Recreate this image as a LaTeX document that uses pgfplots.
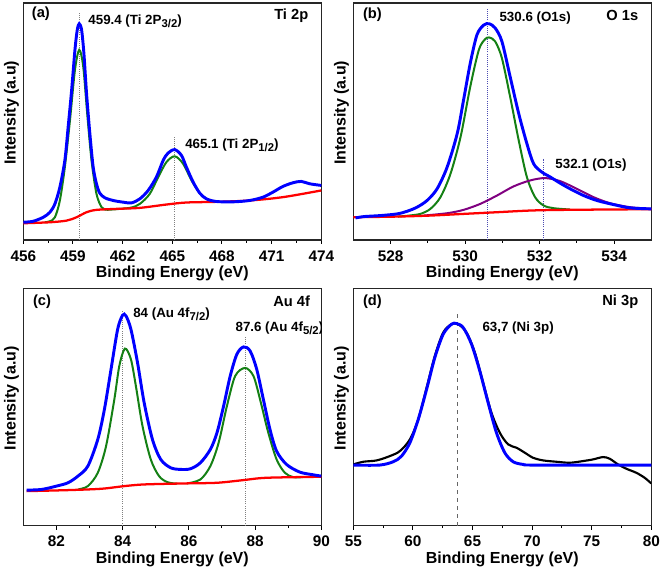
\documentclass[border=0pt]{standalone}
\usepackage{fontspec}
\setmainfont{Liberation Sans}
\usepackage{pgfplots}
\pgfplotsset{compat=1.18}

\definecolor{fitblue}{RGB}{0,0,255}
\definecolor{pkgreen}{RGB}{20,128,20}
\definecolor{bgred}{RGB}{255,0,0}
\definecolor{pkpurple}{RGB}{128,0,128}
\newcommand{\sbs}[1]{\raisebox{-0.45ex}{\fontsize{8.5}{9}\selectfont #1}}

\pgfplotsset{
  panel/.style={
    scale only axis, width=223.5pt, height=177.75pt,
    anchor=south west, axis line style={black!85, line width=0.9pt},
    ymin=0, ytick=\empty, xtick pos=left, tick align=outside,
    minor x tick num=1,
    major tick length=3pt, minor tick length=2pt,
    every tick/.style={black, line width=0.8pt},
    /pgf/number format/assume math mode=true,
    xticklabel style={font=\fontsize{11.5}{13}\selectfont\bfseries, yshift=-1.5pt},
    xlabel={\bfseries Binding Energy (eV)},
    ylabel={\bfseries Intensity (a.u)},
    label style={font=\fontsize{12}{14}\selectfont},
    xlabel style={at={(axis description cs:0.5,-0.142)}, anchor=center},
    ylabel style={at={(axis description cs:-0.040,0.537)}, anchor=center},
    clip=true,
  },
  blueline/.style={fitblue, line width=2.2pt, smooth, tension=0.5},
  greenline/.style={pkgreen, line width=1.5pt, smooth, tension=0.5},
  redline/.style={bgred, line width=1.7pt, smooth, tension=0.5},
  vline/.style={gray, densely dotted, line width=0.6pt},
}

\begin{document}
\begin{tikzpicture}
\path[use as bounding box] (0,0) rectangle (495.75pt,429pt);

% (a) Ti 2p
\begin{axis}[panel, at={(17.475pt,249pt)}, xmin=456, xmax=474, ymax=708,
  xtick={456,459,...,474}]
\addplot[vline] coordinates {(459.4,0) (459.4,680)};
\addplot[vline] coordinates {(465.1,0) (465.1,308)};
\addplot[greenline] coordinates {
(457.3,53) (457.61,56) (457.91,68) (458.21,118) (458.51,218) (458.82,358) (459.12,508)
(459.38,568) (459.62,518) (459.86,378) (460.12,238) (460.42,138) (460.73,98) (461.03,90)};
\addplot[greenline] coordinates {
(461.03,90) (462.43,96) (463.04,108) (463.64,138) (464.15,188) (464.65,233)
(465.15,250) (465.65,228) (466.16,178) (466.66,140) (467.16,120) (467.66,114)};
\addplot[redline] coordinates {
(456,50) (457.61,53) (458.62,58) (459.22,68) (459.82,83) (460.42,90) (461.63,93)
(463.04,96) (464.65,106) (465.85,112) (467.66,114) (469.67,118) (471.68,128) (474,148)};
\addplot[blueline] coordinates {
(456.0,53) (456.60,56) (457.21,68) (457.61,83) (457.91,108) (458.21,158)
(458.51,238) (458.71,338) (458.92,448) (459.12,568) (459.26,628) (459.38,646)
(459.52,628) (459.66,558) (459.82,438) (460.02,318) (460.22,218) (460.42,168)
(460.62,140) (460.93,126) (461.43,118) (462.03,113) (462.54,111) (463.04,123)
(463.54,148) (464.04,188) (464.45,238) (464.75,260) (465.15,270) (465.55,253)
(465.85,218) (466.26,173) (466.66,140) (467.06,123) (467.66,115) (468.67,114)
(469.67,118) (470.48,128) (471.08,143) (471.68,160) (472.29,171) (472.79,175)
(473.29,168) (474.0,163)};
\node[anchor=west, font=\fontsize{10}{12}\selectfont\bfseries] at (axis cs:459.65,653) {459.4 (Ti 2P\sbs{3/2})};
\node[anchor=west, font=\fontsize{10}{12}\selectfont\bfseries] at (axis cs:465.5,283) {465.1 (Ti 2P\sbs{1/2})};
\node[anchor=west, font=\fontsize{11}{13}\selectfont\bfseries] at (axis description cs:0.013,0.954) {(a)};
\node[anchor=east, font=\fontsize{11}{13}\selectfont\bfseries] at (axis description cs:0.972,0.946) {Ti 2p};
\end{axis}

% (b) O 1s
\begin{axis}[panel, at={(264.975pt,249pt)}, xmin=527, xmax=535, ymax=708,
  xtick={528,530,532,534}]
\addplot[vline, blue!40!gray] coordinates {(530.6,0) (530.6,693)};
\addplot[vline, blue!40!gray] coordinates {(532.1,0) (532.1,243)};
\addplot[greenline] coordinates {
(528.2,70) (528.5,73) (528.80,78) (529.07,93) (529.34,128) (529.61,198) (529.88,308) (530.14,458)
(530.37,568) (530.54,600) (530.65,605) (530.81,593) (530.99,543) (531.21,428)
(531.44,298) (531.66,188) (531.88,128) (532.11,103) (532.38,95) (532.82,91)};
\addplot[pkpurple, line width=1.5pt, smooth, tension=0.5] coordinates {
(528.89,73) (529.52,80) (529.96,90) (530.41,108) (530.86,133) (531.30,160)
(531.75,178) (532.15,185) (532.55,176) (533.0,153) (533.45,128) (533.89,110)
(534.43,98) (535.0,93)};
\addplot[redline] coordinates {
(527.0,68) (528.18,70) (529.07,73) (529.96,78) (530.86,83) (531.75,88) (532.64,90) (535.0,92)};
\addplot[blueline] coordinates {
(527.06,66) (527.29,70) (527.73,73) (528.18,78) (528.45,86) (528.71,98)
(528.98,118) (529.25,153) (529.52,218) (529.79,318) (529.96,418) (530.14,528)
(530.32,613) (530.50,642) (530.65,646) (530.81,633) (530.99,593) (531.21,488)
(531.44,378) (531.66,288) (531.84,228) (532.06,203) (532.29,188) (532.55,170)
(532.82,153) (533.18,133) (533.54,118) (533.98,106) (534.43,96) (535.0,93)};
\node[anchor=west, font=\fontsize{10}{12}\selectfont\bfseries] at (axis cs:530.8,663) {530.6 (O1s)};
\node[anchor=west, font=\fontsize{10}{12}\selectfont\bfseries] at (axis cs:532.3,223) {532.1 (O1s)};
\node[anchor=west, font=\fontsize{11}{13}\selectfont\bfseries] at (axis description cs:0.017,0.95) {(b)};
\node[anchor=east, font=\fontsize{11}{13}\selectfont\bfseries] at (axis description cs:0.972,0.946) {O 1s};
\end{axis}

% (c) Au 4f
\begin{axis}[panel, at={(17.475pt,34.875pt)}, xmin=81, xmax=90, ymax=710,
  xtick={82,84,86,88,90}]
\addplot[vline] coordinates {(84.0,0) (84.0,643)};
\addplot[vline] coordinates {(87.7,0) (87.7,568)};
\addplot[greenline] coordinates {
(82.65,108) (82.95,118) (83.25,158) (83.5,238) (83.75,378) (83.9,478) (84.07,530)
(84.25,498) (84.4,418) (84.6,298) (84.85,198) (85.1,148) (85.35,130) (85.65,125)};
\addplot[greenline] coordinates {
(85.95,126) (86.35,138) (86.65,178) (86.9,248) (87.15,358) (87.4,448) (87.7,472)
(87.95,448) (88.15,378) (88.4,278) (88.65,198) (88.9,158) (89.15,145) (89.45,145)};
\addplot[redline] coordinates {
(81.1,103) (82.35,106) (83.35,110) (84.05,118) (84.65,123) (85.85,126) (86.85,128)
(87.65,136) (88.35,143) (90.0,146)};
\addplot[blueline] coordinates {
(81.10,106) (81.55,108) (82.0,118) (82.35,128) (82.65,148) (82.95,178) (83.25,258)
(83.45,348) (83.65,468) (83.85,588) (84.0,630) (84.1,628) (84.25,588) (84.45,488)
(84.65,368) (84.9,258) (85.15,198) (85.45,173) (85.75,168) (86.05,170) (86.35,188)
(86.65,228) (86.85,278) (87.05,358) (87.25,448) (87.45,513) (87.65,535) (87.85,523)
(88.05,468) (88.25,378) (88.45,288) (88.65,223) (88.95,183) (89.35,160) (89.75,152)
(90.0,148)};
\node[anchor=west, font=\fontsize{10}{12}\selectfont\bfseries] at (axis cs:84.18,633) {84 (Au 4f\sbs{7/2})};
\node[anchor=west, font=\fontsize{10}{12}\selectfont\bfseries] at (axis cs:87.27,590) {87.6 (Au 4f\sbs{5/2})};
\node[anchor=west, font=\fontsize{11}{13}\selectfont\bfseries] at (axis description cs:0.017,0.946) {(c)};
\node[anchor=east, font=\fontsize{11}{13}\selectfont\bfseries] at (axis description cs:0.978,0.946) {Au 4f};
\end{axis}

% (d) Ni 3p
\begin{axis}[panel, at={(264.975pt,34.875pt)}, xmin=55, xmax=80, ymax=710,
  xtick={55,60,...,80}, minor x tick num=1]
\addplot[gray!80!black, dashed, line width=0.7pt] coordinates {(63.7,0) (63.7,643)};
\addplot[black, line width=1.6pt, smooth, tension=0.5] coordinates {
(55.0,183) (55.84,191) (56.96,195) (58.07,208) (58.91,223) (59.75,258) (60.45,318)
(61.15,413) (61.84,508) (62.54,578) (63.24,603) (63.8,603) (64.5,578) (65.2,518)
(65.89,428) (66.59,338) (67.29,278) (67.99,243) (68.69,233) (69.39,218) (70.08,203)
(70.92,195) (72.04,191) (73.16,188) (74.27,193) (75.11,198) (75.95,205) (76.51,200)
(77.21,183) (77.91,170) (78.74,158) (79.44,143) (80.0,126)};
\addplot[blueline] coordinates {
(55,181) (57.2,181) (58.35,191) (59.05,208) (59.75,248) (60.45,318) (61.15,408)
(61.84,503) (62.54,573) (63.24,603) (63.66,605) (64.22,593) (64.92,543) (65.61,463)
(66.31,368) (67.01,278) (67.71,218) (68.41,191) (69.25,183) (70.36,181) (80,181)};
\node[anchor=west, font=\fontsize{10}{12}\selectfont\bfseries] at (axis cs:65.45,593) {63,7 (Ni 3p)};
\node[anchor=west, font=\fontsize{11}{13}\selectfont\bfseries] at (axis description cs:0.017,0.946) {(d)};
\node[anchor=east, font=\fontsize{11}{13}\selectfont\bfseries] at (axis description cs:0.972,0.946) {Ni 3p};
\end{axis}
\end{tikzpicture}
\end{document}
